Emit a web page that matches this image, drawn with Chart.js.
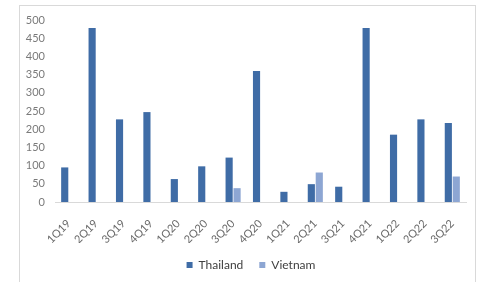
<!DOCTYPE html>
<html>
<head>
<meta charset="utf-8">
<script src="https://cdn.jsdelivr.net/npm/chart.js@4/dist/chart.umd.min.js"></script>
<style>
  html, body { margin: 0; padding: 0; background: #fff; }
  #wrap { position: relative; width: 486px; height: 282px; overflow: hidden; }
  #frame { position: absolute; left: 19px; top: 5px; width: 457px; height: 290px; border: 1px solid #d9d9d9; box-sizing: border-box; }
  canvas { position: absolute; left: 0; top: 0; }
</style>
</head>
<body>
<div id="wrap">
  <div id="frame"></div>
  <canvas id="c" width="486" height="282"></canvas>
</div>
<script>
const categories = ["1Q19","2Q19","3Q19","4Q19","1Q20","2Q20","3Q20","4Q20","1Q21","2Q21","3Q21","4Q21","1Q22","2Q22","3Q22"];
const thailand = [95, 478, 227, 247, 63, 98, 122, 360, 28, 49, 42, 478, 185, 227, 217];
const vietnam  = [null, null, null, null, null, null, 38, null, null, 81, null, null, null, null, 70];
const yTicks = [0, 50, 100, 150, 200, 250, 300, 350, 400, 450, 500];

const FONT = "Lato, 'Open Sans', 'Liberation Sans', sans-serif";

const shiftLegend = {
  id: 'shiftLegend',
  afterLayout(chart) {
    if (chart.legend) { chart.legend.left += 18; chart.legend.right += 18; }
  }
};

new Chart(document.getElementById('c'), {
  type: 'bar',
  data: {
    labels: categories,
    datasets: [
      { label: 'Thailand', data: thailand, backgroundColor: '#3f6ca6', barPercentage: 0.9, categoryPercentage: 0.58 },
      { label: 'Vietnam', data: vietnam, backgroundColor: '#8da6d3', barPercentage: 0.9, categoryPercentage: 0.58 }
    ]
  },
  plugins: [shiftLegend],
  options: {
    responsive: false,
    animation: false,
    layout: { padding: { left: 0, right: 20, top: 20, bottom: 1 } },
    plugins: {
      legend: {
        position: 'bottom',
        labels: {
          boxWidth: 6, boxHeight: 6, padding: 16,
          color: '#404040',
          font: { family: FONT, size: 12 }
        }
      },
      tooltip: { enabled: false }
    },
    scales: {
      x: {
        grid: { display: false, drawTicks: false },
        border: { display: true, color: '#d9d9d9', width: 1 },
        ticks: {
          color: '#6a6a6a', font: { family: FONT, size: 11 },
          maxRotation: 45, minRotation: 45, padding: 15, autoSkip: false
        },
        afterFit: (s) => { s.height = 41; }
      },
      y: {
        min: 0, max: 500,
        afterBuildTicks: (s) => { s.ticks = yTicks.map(v => ({ value: v })); },
        grid: { display: false, drawTicks: false },
        border: { display: false },
        ticks: { color: '#7a7a7a', font: { family: FONT, size: 11 }, padding: 10 },
        afterFit: (s) => { s.width = 55; }
      }
    }
  }
});
</script>
</body>
</html>
